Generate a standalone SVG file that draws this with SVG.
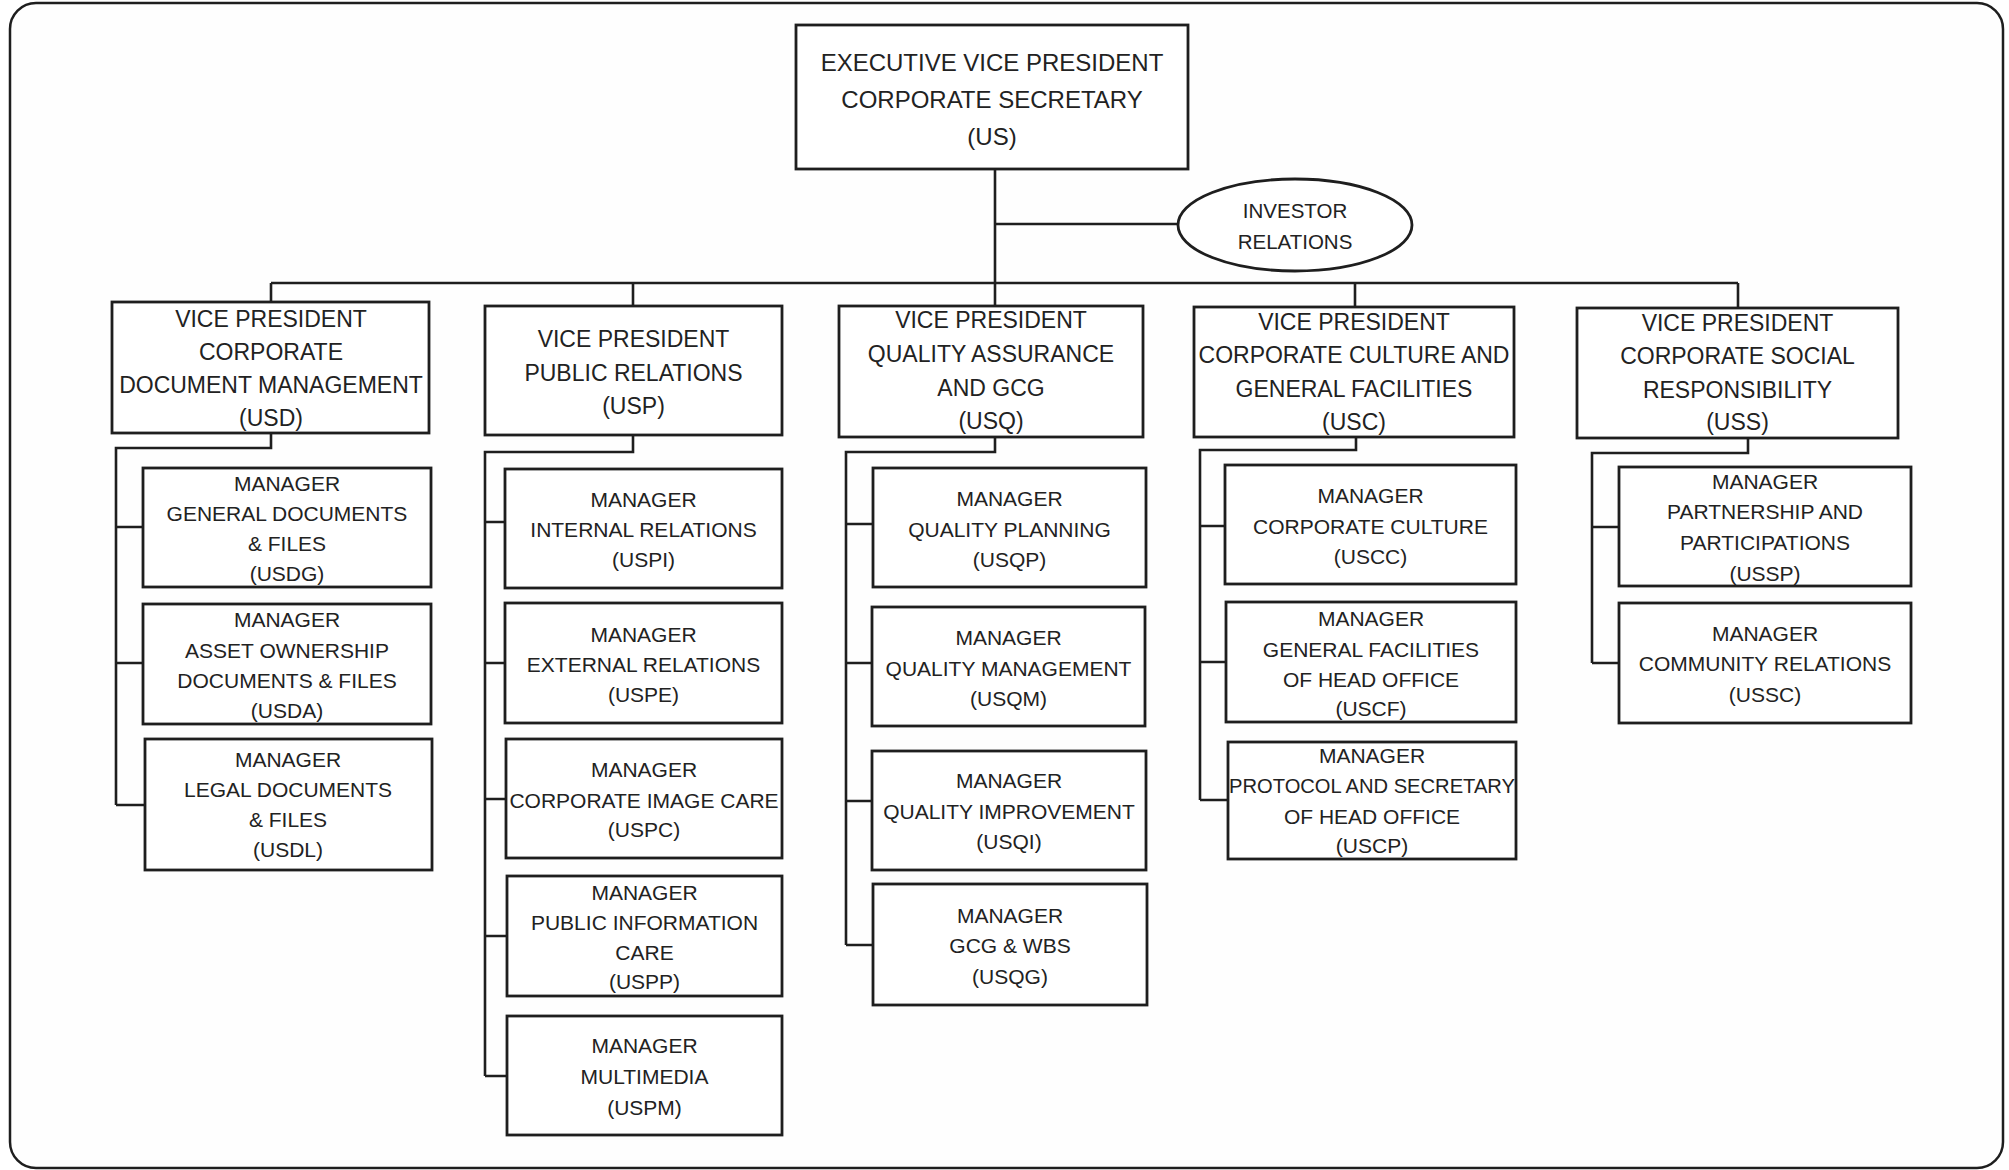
<svg xmlns="http://www.w3.org/2000/svg" width="2009" height="1170" viewBox="0 0 2009 1170">
<style>
.frame{fill:#fefefe;stroke:#1e1e1e;stroke-width:2.5}
.box{fill:#fff;stroke:#1e1e1e;stroke-width:2.8}
.conn{fill:none;stroke:#1e1e1e;stroke-width:2.6}
text{font-family:"Liberation Sans",Arial,sans-serif;fill:#222;text-anchor:middle}
.t24{font-size:24px}
.t23{font-size:23px}
.t21{font-size:21px}
.t20{font-size:20.5px}
</style>
<rect class="frame" x="10" y="3" width="1993" height="1165" rx="26"/>
<g id="connectors">
<path class="conn" d="M995 169V306M995 224H1178M271 283H1738M271 283V302M633 283V306M1355 283V307M1738 283V308"/>
<path class="conn" d="M271 433V448H116V805M116 527H143M116 663H143M116 805H145"/>
<path class="conn" d="M633 435V452H485V1076M485 522H505M485 663H505M485 799H506M485 936H507M485 1076H507"/>
<path class="conn" d="M995 437V452H846V945M846 524H873M846 663H872M846 801H872M846 945H873"/>
<path class="conn" d="M1356 437V450H1200V800M1200 526H1225M1200 662H1226M1200 800H1228"/>
<path class="conn" d="M1748 438V453H1592V663M1592 527H1619M1592 663H1619"/>
</g>
<g id="us"><rect class="box" x="796" y="25" width="392" height="144"/>
<text class="t24" x="992" y="71">EXECUTIVE VICE PRESIDENT</text>
<text class="t24" x="992" y="108">CORPORATE SECRETARY</text>
<text class="t24" x="992" y="145">(US)</text></g>
<g id="investor"><ellipse class="box" cx="1295" cy="225" rx="117" ry="46"/>
<text class="t20" x="1295" y="218">INVESTOR</text>
<text class="t20" x="1295" y="249">RELATIONS</text></g>
<g id="usd"><rect class="box" x="112" y="302" width="317" height="131"/>
<text class="t23" x="271" y="327">VICE PRESIDENT</text>
<text class="t23" x="271" y="360">CORPORATE</text>
<text class="t23" x="271" y="393">DOCUMENT MANAGEMENT</text>
<text class="t23" x="271" y="426">(USD)</text></g>
<g id="usp"><rect class="box" x="485" y="306" width="297" height="129"/>
<text class="t23" x="633.5" y="347">VICE PRESIDENT</text>
<text class="t23" x="633.5" y="381">PUBLIC RELATIONS</text>
<text class="t23" x="633.5" y="414">(USP)</text></g>
<g id="usq"><rect class="box" x="839" y="306" width="304" height="131"/>
<text class="t23" x="991" y="328">VICE PRESIDENT</text>
<text class="t23" x="991" y="362">QUALITY ASSURANCE</text>
<text class="t23" x="991" y="396">AND GCG</text>
<text class="t23" x="991" y="429">(USQ)</text></g>
<g id="usc"><rect class="box" x="1194" y="307" width="320" height="130"/>
<text class="t23" x="1354" y="330">VICE PRESIDENT</text>
<text class="t23" x="1354" y="363">CORPORATE CULTURE AND</text>
<text class="t23" x="1354" y="397">GENERAL FACILITIES</text>
<text class="t23" x="1354" y="430">(USC)</text></g>
<g id="uss"><rect class="box" x="1577" y="308" width="321" height="130"/>
<text class="t23" x="1737.5" y="331">VICE PRESIDENT</text>
<text class="t23" x="1737.5" y="364">CORPORATE SOCIAL</text>
<text class="t23" x="1737.5" y="398">RESPONSIBILITY</text>
<text class="t23" x="1737.5" y="430">(USS)</text></g>
<g id="usdg"><rect class="box" x="143" y="468" width="288" height="119"/>
<text class="t21" x="287" y="491">MANAGER</text>
<text class="t21" x="287" y="521">GENERAL DOCUMENTS</text>
<text class="t21" x="287" y="551">&amp; FILES</text>
<text class="t21" x="287" y="581">(USDG)</text></g>
<g id="usda"><rect class="box" x="143" y="604" width="288" height="120"/>
<text class="t21" x="287" y="627">MANAGER</text>
<text class="t21" x="287" y="658">ASSET OWNERSHIP</text>
<text class="t21" x="287" y="688">DOCUMENTS &amp; FILES</text>
<text class="t21" x="287" y="718">(USDA)</text></g>
<g id="usdl"><rect class="box" x="145" y="739" width="287" height="131"/>
<text class="t21" x="288" y="767">MANAGER</text>
<text class="t21" x="288" y="797">LEGAL DOCUMENTS</text>
<text class="t21" x="288" y="827">&amp; FILES</text>
<text class="t21" x="288" y="857">(USDL)</text></g>
<g id="uspi"><rect class="box" x="505" y="469" width="277" height="119"/>
<text class="t21" x="643.5" y="507">MANAGER</text>
<text class="t21" x="643.5" y="537">INTERNAL RELATIONS</text>
<text class="t21" x="643.5" y="567">(USPI)</text></g>
<g id="uspe"><rect class="box" x="505" y="603" width="277" height="120"/>
<text class="t21" x="643.5" y="642">MANAGER</text>
<text class="t21" x="643.5" y="672">EXTERNAL RELATIONS</text>
<text class="t21" x="643.5" y="702">(USPE)</text></g>
<g id="uspc"><rect class="box" x="506" y="739" width="276" height="119"/>
<text class="t21" x="644" y="777">MANAGER</text>
<text class="t21" x="644" y="808">CORPORATE IMAGE CARE</text>
<text class="t21" x="644" y="837">(USPC)</text></g>
<g id="uspp"><rect class="box" x="507" y="876" width="275" height="120"/>
<text class="t21" x="644.5" y="900">MANAGER</text>
<text class="t21" x="644.5" y="930">PUBLIC INFORMATION</text>
<text class="t21" x="644.5" y="960">CARE</text>
<text class="t21" x="644.5" y="989">(USPP)</text></g>
<g id="uspm"><rect class="box" x="507" y="1016" width="275" height="119"/>
<text class="t21" x="644.5" y="1053">MANAGER</text>
<text class="t21" x="644.5" y="1084">MULTIMEDIA</text>
<text class="t21" x="644.5" y="1115">(USPM)</text></g>
<g id="usqp"><rect class="box" x="873" y="468" width="273" height="119"/>
<text class="t21" x="1009.5" y="506">MANAGER</text>
<text class="t21" x="1009.5" y="537">QUALITY PLANNING</text>
<text class="t21" x="1009.5" y="567">(USQP)</text></g>
<g id="usqm"><rect class="box" x="872" y="607" width="273" height="119"/>
<text class="t21" x="1008.5" y="645">MANAGER</text>
<text class="t21" x="1008.5" y="676">QUALITY MANAGEMENT</text>
<text class="t21" x="1008.5" y="706">(USQM)</text></g>
<g id="usqi"><rect class="box" x="872" y="751" width="274" height="119"/>
<text class="t21" x="1009" y="788">MANAGER</text>
<text class="t21" x="1009" y="819">QUALITY IMPROVEMENT</text>
<text class="t21" x="1009" y="849">(USQI)</text></g>
<g id="usqg"><rect class="box" x="873" y="884" width="274" height="121"/>
<text class="t21" x="1010" y="923">MANAGER</text>
<text class="t21" x="1010" y="953">GCG &amp; WBS</text>
<text class="t21" x="1010" y="984">(USQG)</text></g>
<g id="uscc"><rect class="box" x="1225" y="465" width="291" height="119"/>
<text class="t21" x="1370.5" y="503">MANAGER</text>
<text class="t21" x="1370.5" y="534">CORPORATE CULTURE</text>
<text class="t21" x="1370.5" y="564">(USCC)</text></g>
<g id="uscf"><rect class="box" x="1226" y="602" width="290" height="120"/>
<text class="t21" x="1371" y="626">MANAGER</text>
<text class="t21" x="1371" y="657">GENERAL FACILITIES</text>
<text class="t21" x="1371" y="687">OF HEAD OFFICE</text>
<text class="t21" x="1371" y="716">(USCF)</text></g>
<g id="uscp"><rect class="box" x="1228" y="742" width="288" height="117"/>
<text class="t21" x="1372" y="763">MANAGER</text>
<text class="t21" x="1372" y="793" textLength="286" lengthAdjust="spacingAndGlyphs">PROTOCOL AND SECRETARY</text>
<text class="t21" x="1372" y="824">OF HEAD OFFICE</text>
<text class="t21" x="1372" y="853">(USCP)</text></g>
<g id="ussp"><rect class="box" x="1619" y="467" width="292" height="119"/>
<text class="t21" x="1765" y="489">MANAGER</text>
<text class="t21" x="1765" y="519">PARTNERSHIP AND</text>
<text class="t21" x="1765" y="550">PARTICIPATIONS</text>
<text class="t21" x="1765" y="581">(USSP)</text></g>
<g id="ussc"><rect class="box" x="1619" y="603" width="292" height="120"/>
<text class="t21" x="1765" y="641">MANAGER</text>
<text class="t21" x="1765" y="671">COMMUNITY RELATIONS</text>
<text class="t21" x="1765" y="702">(USSC)</text></g>
</svg>
